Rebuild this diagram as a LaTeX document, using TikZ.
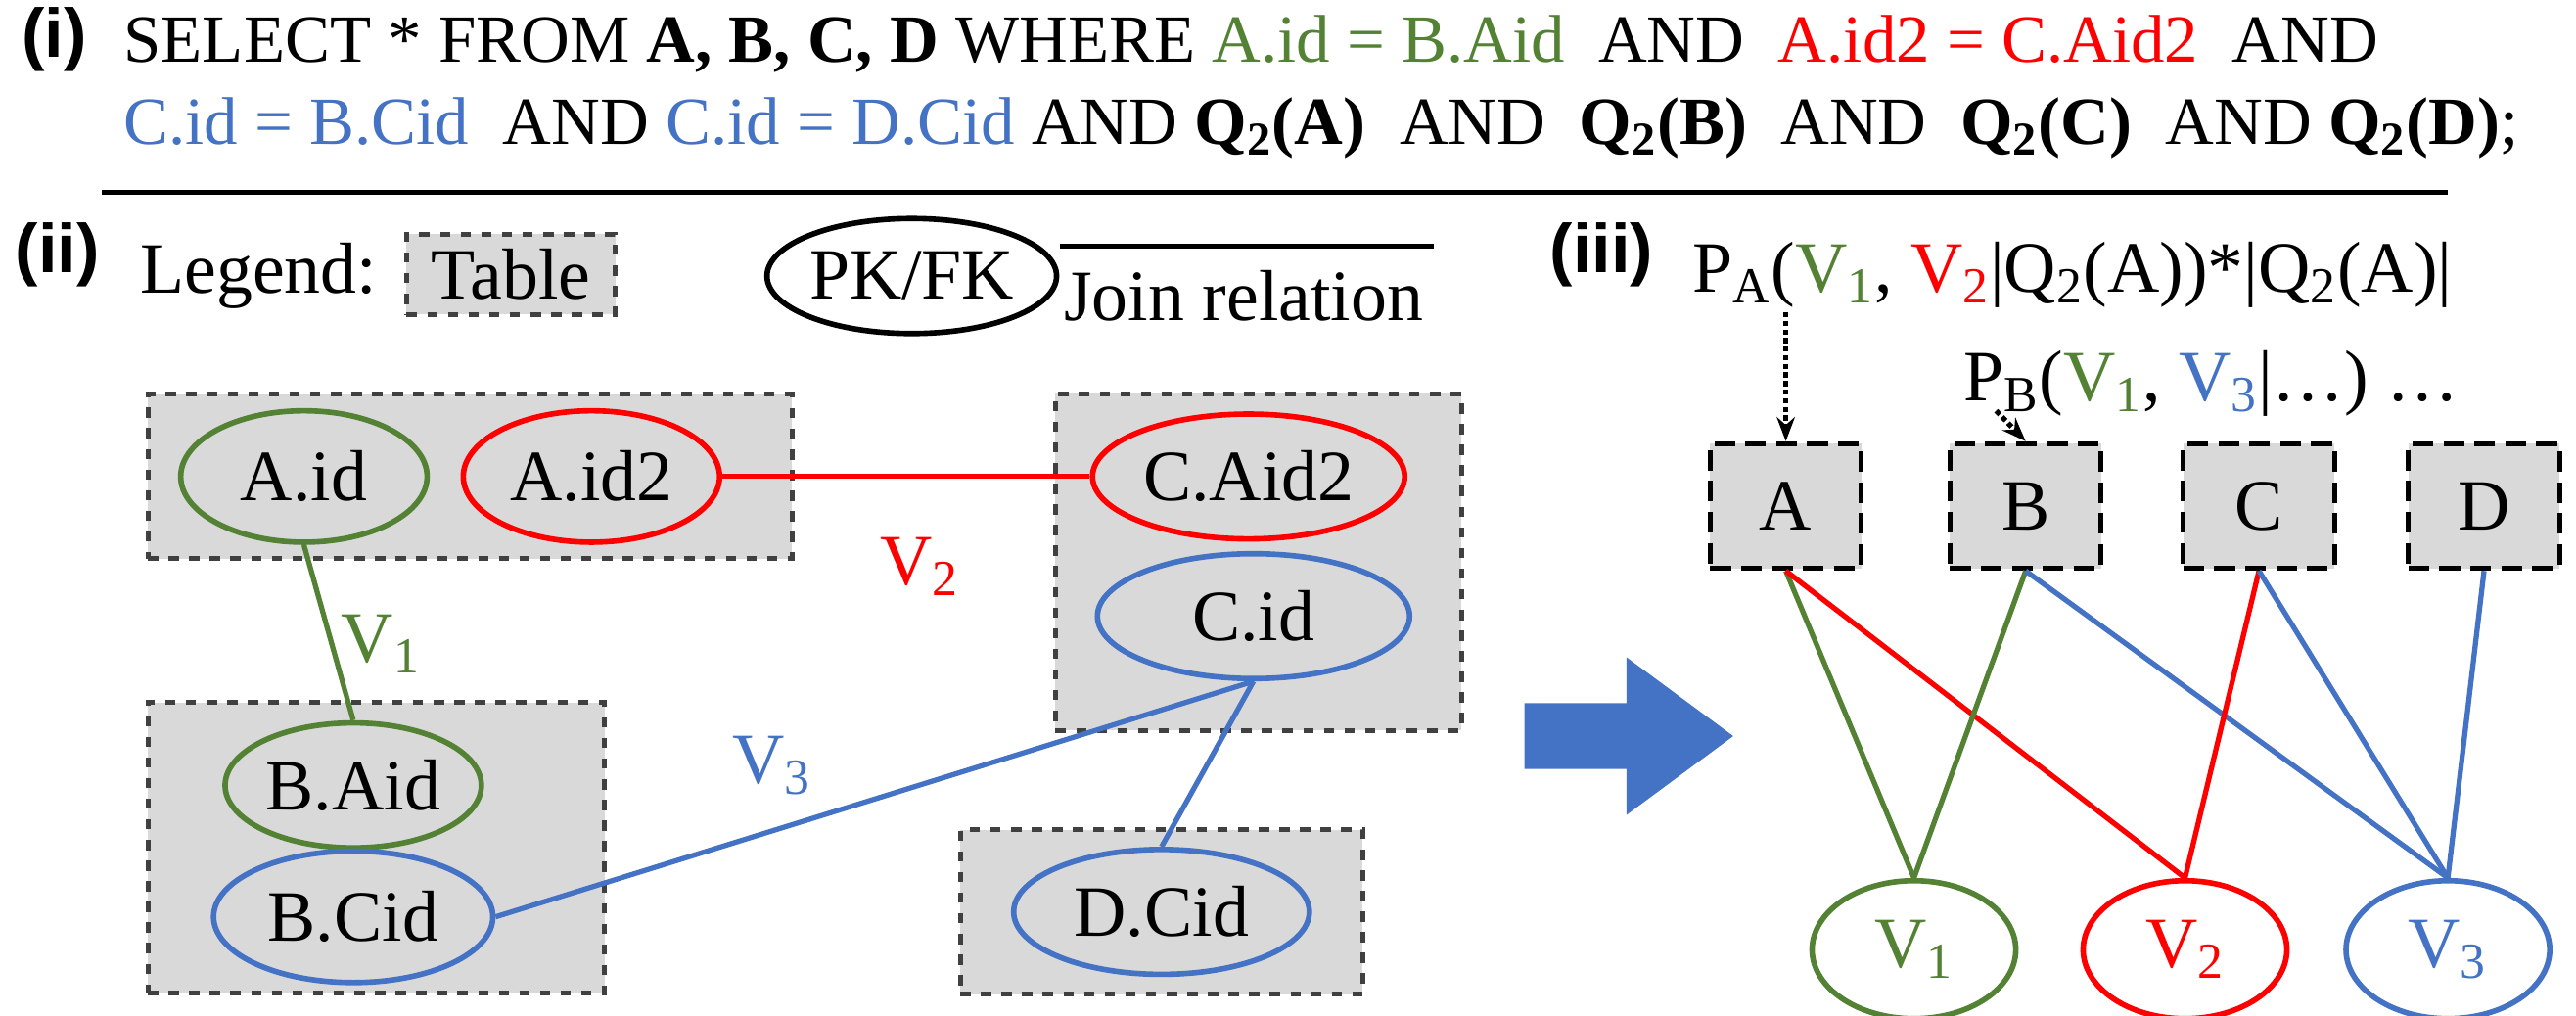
\documentclass[tikz,border=0pt]{standalone}
\usepackage{fontspec}
\setmainfont{Liberation Serif}
\newfontfamily\lblfont{Liberation Sans}
\usetikzlibrary{shapes.geometric,arrows.meta}
\definecolor{vgreen}{RGB}{84,130,53}
\definecolor{vred}{RGB}{255,0,0}
\definecolor{vblue}{RGB}{68,114,196}
\definecolor{tgray}{RGB}{217,217,217}
\tikzset{
	tbl/.style={draw=black!75, dashed, line width=1.4pt, fill=tgray, inner sep=0pt},
	key/.style={ellipse, draw, line width=1.6pt, inner sep=0pt, font=\fontsize{21}{24}\selectfont},
	txt/.style={font=\fontsize{21}{24}\selectfont, inner sep=0pt},
	qry/.style={font=\fontsize{19.6}{24}\selectfont, inner sep=0pt},
	part/.style={font=\lblfont\bfseries\fontsize{20}{24}\selectfont, inner sep=0pt},
	link/.style={line width=1.5pt},
}
\begin{document}
\begin{tikzpicture}[x=0.016786cm, y=-0.016786cm]
	\useasboundingbox (0,0) rectangle (1568,618);
	%(i) query
	\node[part] (P1) at (33,24) {(i)};
	\node[qry, anchor=base west] (Q1) at (75,38) {SELECT * FROM \textbf{A, B, C, D} WHERE \textcolor{vgreen}{A.id = B.Aid}~ AND ~\textcolor{vred}{A.id2 = C.Aid2}~ AND};
	\node[qry, anchor=base west] (Q2) at (75,88) {\textcolor{vblue}{C.id = B.Cid}~ AND \textcolor{vblue}{C.id = D.Cid} AND \textbf{Q\textsubscript{2}(A)}~ AND ~\textbf{Q\textsubscript{2}(B)}~ AND ~\textbf{Q\textsubscript{2}(C)}~ AND \textbf{Q\textsubscript{2}(D)};};
	\coordinate (R1) at (62,117);
	\coordinate (R2) at (1490,117);
	\draw[line width=1.2pt] (R1) -- (R2);
	
	%(ii) legend
	\node[part] (P2) at (35,155) {(ii)};
	\node[txt, anchor=west] (LG) at (85,168) {Legend:};
	\node[tbl, minimum width=127*0.016786cm, minimum height=49*0.016786cm, txt] (LT) at (311,167) {Table};
	\node[key, minimum width=160*0.016786cm, minimum height=70*0.016786cm] (LK) at (555,168) {PK/FK};
	\coordinate (J1) at (645,150);
	\coordinate (J2) at (873,150);
	\draw[link] (J1) -- (J2);
	\node[txt] (LJ) at (757,180) {Join relation};
	
	%tables
	\node[tbl, minimum width=392*0.016786cm, minimum height=100*0.016786cm] (TA) at (286,290) {};
	\node[tbl, minimum width=247*0.016786cm, minimum height=205*0.016786cm] (TC) at (766,342) {};
	\node[tbl, minimum width=278*0.016786cm, minimum height=177*0.016786cm] (TB) at (229,516) {};
	\node[tbl, minimum width=245*0.016786cm, minimum height=100*0.016786cm] (TD) at (707,555) {};
	
	\node[key, draw=vgreen, minimum width=150*0.016786cm, minimum height=80*0.016786cm] (AID) at (185,290) {A.id};
	\node[key, draw=vred, minimum width=156*0.016786cm, minimum height=80*0.016786cm] (AID2) at (360,290) {A.id2};
	\node[key, draw=vred, minimum width=190*0.016786cm, minimum height=76*0.016786cm] (CAID) at (760,290) {C.Aid2};
	\node[key, draw=vblue, minimum width=190*0.016786cm, minimum height=76*0.016786cm] (CID) at (763,375) {C.id};
	\node[key, draw=vgreen, minimum width=156*0.016786cm, minimum height=76*0.016786cm] (BAID) at (215,478) {B.Aid};
	\node[key, draw=vblue, minimum width=170*0.016786cm, minimum height=80*0.016786cm] (BCID) at (215,558) {B.Cid};
	\node[key, draw=vblue, minimum width=180*0.016786cm, minimum height=76*0.016786cm] (DCID) at (707,555) {D.Cid};
	
	\draw[link, vgreen] (AID.south) -- (BAID.north);
	\draw[link, vred] (AID2.east) -- (CAID.west);
	\draw[link, vblue] (BCID.east) -- (CID.south);
	\draw[link, vblue] (CID.south) -- (DCID.north);
	\node[txt, text=vgreen] (V1L) at (232,392) {V\textsubscript{1}};
	\node[txt, text=vred] (V2L) at (560,345) {V\textsubscript{2}};
	\node[txt, text=vblue] (V3L) at (470,466) {V\textsubscript{3}};
	
	%big arrow
	\fill[vblue] (928,428) -- (990,428) -- (990,400) -- (1055,448) -- (990,496) -- (990,468) -- (928,468) -- cycle;
	
	%(iii)
	\node[part] (P3) at (975,155) {(iii)};
	\node[txt, anchor=base west] (PA) at (1030,178) {P\textsubscript{A}(\textcolor{vgreen}{V\textsubscript{1}}, \textcolor{vred}{V\textsubscript{2}}|Q\textsubscript{2}(A))*|Q\textsubscript{2}(A)|};
	\node[txt, anchor=base west] (PB) at (1195,244) {P\textsubscript{B}(\textcolor{vgreen}{V\textsubscript{1}}, \textcolor{vblue}{V\textsubscript{3}}|\dots) \dots};
	
	\foreach \n/\x in {A/1087, B/1233, C/1375, D/1512}{
		\node[tbl, solid, draw=black, dash pattern=on 6pt off 3pt, minimum width=92*0.016786cm, minimum height=76*0.016786cm, txt] (B\n) at (\x,308) {\n};
	}
	\node[key, draw=vgreen, text=vgreen, minimum width=124*0.016786cm, minimum height=84*0.016786cm] (V1) at (1165,578) {V\textsubscript{1}};
	\node[key, draw=vred, text=vred, minimum width=124*0.016786cm, minimum height=84*0.016786cm] (V2) at (1330,578) {V\textsubscript{2}};
	\node[key, draw=vblue, text=vblue, minimum width=124*0.016786cm, minimum height=84*0.016786cm] (V3) at (1490,578) {V\textsubscript{3}};
	
	\coordinate (DA) at (1087,190);
	\coordinate (DB) at (1215,250);
	\draw[line width=1.5pt, densely dotted, -{Stealth[length=7pt]}] (DA) -- (BA.north);
	\draw[line width=1.5pt, densely dotted, -{Stealth[length=7pt]}] (DB) -- (BB.north);
	
	\draw[link, vgreen] (BA.south) -- (V1.north);
	\draw[link, vred] (BA.south) -- (V2.north);
	\draw[link, vgreen] (BB.south) -- (V1.north);
	\draw[link, vblue] (BB.south) -- (V3.north);
	\draw[link, vred] (BC.south) -- (V2.north);
	\draw[link, vblue] (BC.south) -- (V3.north);
	\draw[link, vblue] (BD.south) -- (V3.north);
\end{tikzpicture}
\end{document}
